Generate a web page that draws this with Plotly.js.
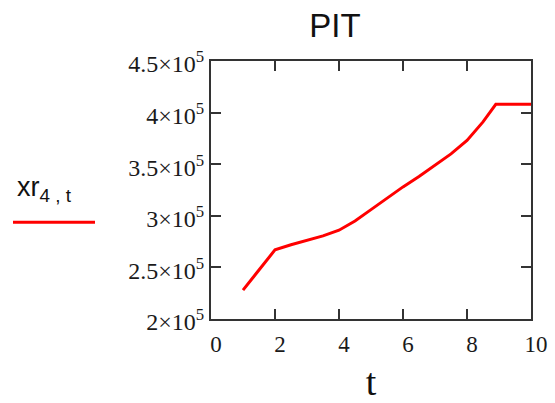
<!DOCTYPE html>
<html>
<head>
<meta charset="utf-8">
<script src="https://cdn.plot.ly/plotly-3.0.1.min.js"></script>
<style>html,body{margin:0;padding:0;background:#fff;}#chart{width:555px;height:403px;}</style>
</head>
<body>
<div id="chart"></div>
<script>
// data
const tValues = [1, 1.5, 2, 2.5, 3, 3.5, 4, 4.5, 5, 5.5, 6, 6.5, 7, 7.5, 8, 8.5, 8.9, 9, 10];
const xr4Values = [228000, 247000, 267000, 272000, 276000, 280500, 286000, 295000, 306000, 317000, 328000, 338000, 349000, 360000, 373000, 391000, 408000, 408000, 408000];
const xTickVals = [0, 2, 4, 6, 8, 10];
const yTickVals = [200000, 250000, 300000, 350000, 400000, 450000];
const yTickText = ['2×10<sup>5</sup>', '2.5×10<sup>5</sup>', '3×10<sup>5</sup>', '3.5×10<sup>5</sup>', '4×10<sup>5</sup>', '4.5×10<sup>5</sup>'];
const chartTitle = 'PIT';
const xTitle = 't';
const seriesLabel = 'xr<sub>4 , t</sub>';

const trace = {
  x: tValues, y: xr4Values, type: 'scatter', mode: 'lines',
  line: {color: '#ff0000', width: 3}, showlegend: false, hoverinfo: 'none'
};

const serif = 'Liberation Serif, Times New Roman, serif';
const sans = 'Liberation Sans, Arial, sans-serif';

const axisCommon = {
  showline: true, linecolor: '#333', linewidth: 2, mirror: 'allticks',
  ticks: 'inside', ticklen: 10, tickwidth: 2, tickcolor: '#333',
  showgrid: false, zeroline: false
};

const layout = {
  width: 555, height: 403,
  margin: {l: 211, r: 24, t: 61, b: 84},
  paper_bgcolor: '#fff', plot_bgcolor: '#fff',
  title: {text: chartTitle, font: {family: sans, size: 33, color: '#111'},
          x: 335/555, xanchor: 'center', y: 1 - 25/403, yanchor: 'middle'},
  xaxis: Object.assign({}, axisCommon, {
    range: [0, 10], tickvals: xTickVals, ticktext: xTickVals.map(String),
    ticklabelshift: 5, ticklabelstandoff: 3,
    tickfont: {family: serif, size: 23, color: '#1a1a1a'},
    title: {text: xTitle, font: {family: serif, size: 38, color: '#111'}, standoff: 18}
  }),
  yaxis: Object.assign({}, axisCommon, {
    range: [200000, 450000], tickvals: yTickVals, ticktext: yTickText,
    ticklabelshift: 3,
    tickfont: {family: serif, size: 24, color: '#1a1a1a'}
  }),
  annotations: [{
    xref: 'paper', yref: 'paper', x: (15 - 211) / 320, y: (319 - 208) / 258,
    xanchor: 'left', yanchor: 'bottom', showarrow: false,
    text: seriesLabel, font: {family: sans, size: 27, color: '#111'}
  }],
  shapes: [{
    type: 'line', xref: 'paper', yref: 'paper',
    x0: (13 - 211) / 320, x1: (95 - 211) / 320,
    y0: (319 - 222.3) / 258, y1: (319 - 222.3) / 258,
    line: {color: '#ff0000', width: 3}
  }]
};

Plotly.newPlot('chart', [trace], layout, {staticPlot: true, displayModeBar: false});
</script>
</body>
</html>
